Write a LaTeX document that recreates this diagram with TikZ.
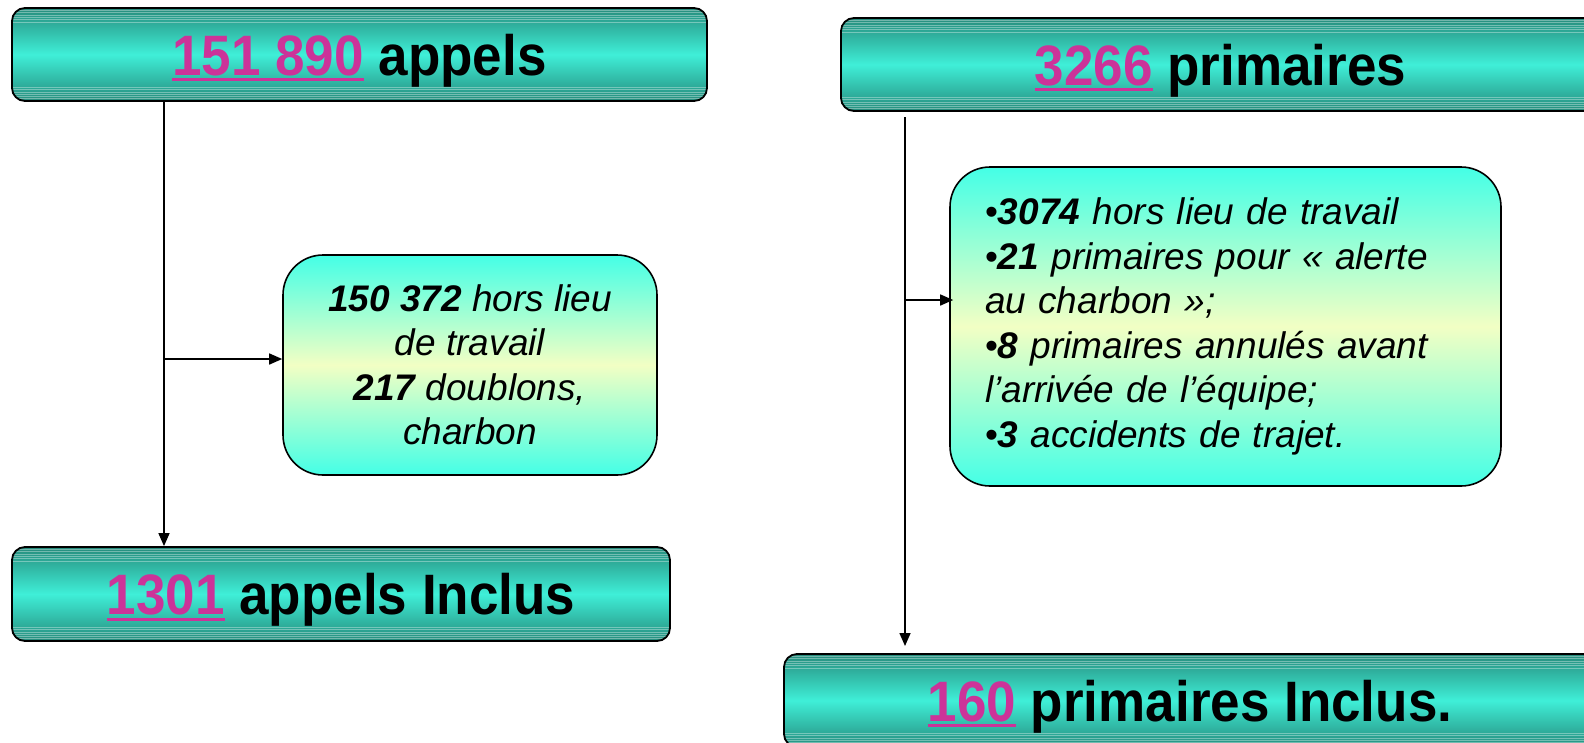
\documentclass[tikz,border=0pt]{standalone}
\usepackage{fontspec}
\setmainfont{Liberation Sans}
\newfontfamily\headfont[FakeStretch=0.93]{Liberation Sans}
\usetikzlibrary{arrows.meta}
\definecolor{mag}{HTML}{CC3399}
\definecolor{tealdark}{HTML}{268C7C}
\definecolor{tealmid}{HTML}{3FEFD8}
\definecolor{cyanlt}{HTML}{44FFE6}
\definecolor{paleyel}{HTML}{F2FFC4}
\newcommand\magnum[1]{{\color{mag}\setbox0\hbox{#1}\rlap{\rule[-6pt]{\wd0}{2.8pt}}\box0}}
\tikzset{
  header/.style={draw=black, line width=1.8pt, rounded corners=13pt, inner sep=0pt,
    top color=tealdark, bottom color=tealdark, middle color=tealmid,
    font=\headfont\fontsize{57}{64}\selectfont\bfseries, text depth=0pt,
    path picture={
      \foreach \i in {1,...,6}{
        \draw[white, opacity=.35, line width=.6pt]
          ([yshift=-\i*2.3pt]path picture bounding box.north west) -- ([yshift=-\i*2.3pt]path picture bounding box.north east);
        \draw[white, opacity=.35, line width=.6pt]
          ([yshift=\i*2.3pt]path picture bounding box.south west) -- ([yshift=\i*2.3pt]path picture bounding box.south east);
      }}},
  infobox/.style={draw=black, line width=1.6pt, rounded corners=40pt, inner sep=0pt,
    top color=cyanlt, bottom color=cyanlt, middle color=paleyel,
    font=\fontsize{37}{44.5}\selectfont\itshape},
  conn/.style={line width=1.5pt, -{Triangle[length=13pt,width=11pt]}}
}
\begin{document}
\begin{tikzpicture}[x=1pt,y=-1pt]
\useasboundingbox (0,0) rectangle (1584,742);
\clip (0,0) rectangle (1584,742);

\node[header, minimum width=695pt, minimum height=93pt] (b1) at (359.5,54.5)
  {\magnum{151 890} appels};
\node[header, minimum width=759pt, minimum height=93pt] (b2) at (1220.5,64.5)
  {\magnum{3266} primaires};
\node[infobox, minimum width=374pt, minimum height=220pt, align=center] (b3) at (470,365)
  {\textbf{150 372} hors lieu\\de travail\\\textbf{217} doublons,\\charbon};
\node[infobox, minimum width=551pt, minimum height=319pt, align=left, text width=481pt] (b4) at (1225.5,326.5)
  {{\upshape•}\textbf{3074} hors lieu de travail\\
   {\upshape•}\textbf{21} primaires pour « alerte\\
   au charbon »;\\
   {\upshape•}\textbf{8} primaires annulés avant\\
   l’arrivée de l’équipe;\\
   {\upshape•}\textbf{3} accidents de trajet.};
\node[header, minimum width=658pt, minimum height=94pt] (b5) at (341,594)
  {\magnum{1301} appels Inclus};
\node[header, minimum width=812pt, minimum height=93pt] (b6) at (1190,700.5)
  {\magnum{160} primaires Inclus.};

\coordinate (l1) at (164,101);
\coordinate (l2) at (164,359);
\coordinate (r1) at (905,117);
\coordinate (r2) at (905,300);
\coordinate (r3) at (905,646);

\draw[conn] (l1) -- (l1 |- b5.north);
\draw[conn] (l2) -- (l2 -| b3.west);
\draw[conn] (r1) -- (r3);
\draw[conn] (r2) -- ([xshift=4pt]r2 -| b4.west);
\end{tikzpicture}
\end{document}
